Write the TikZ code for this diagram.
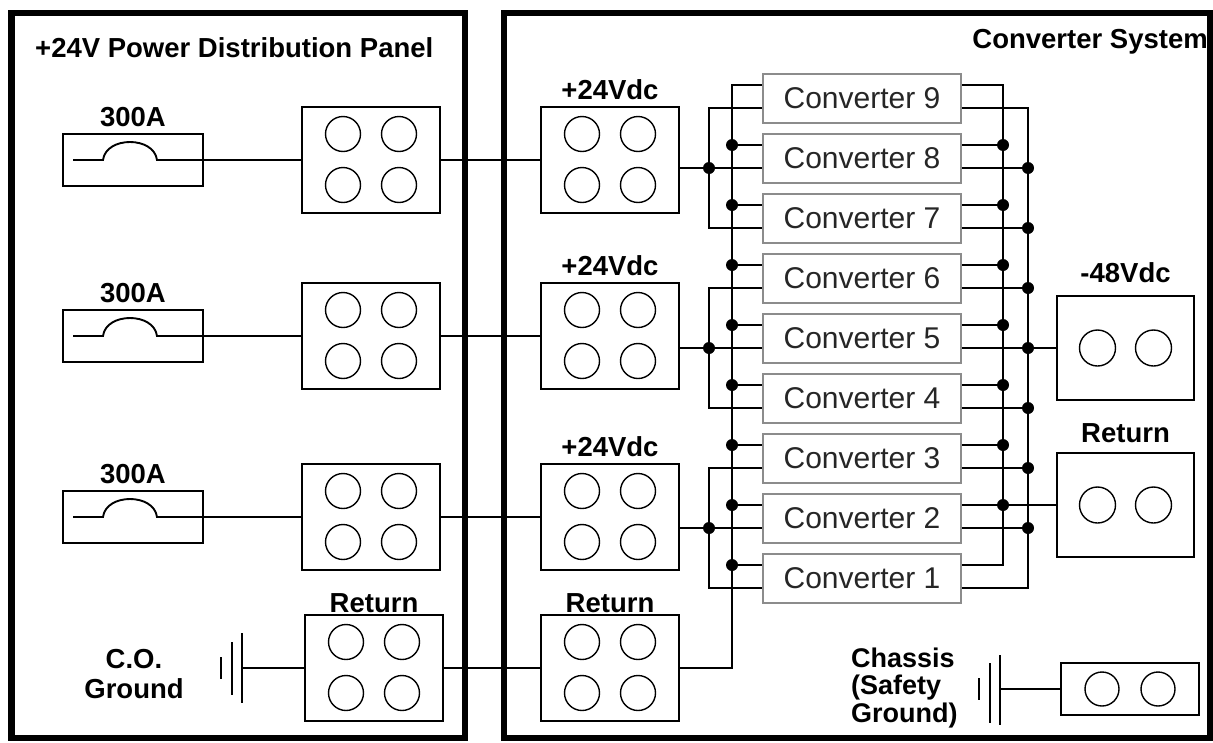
\documentclass[tikz,border=0pt]{standalone}
\usepackage{fontspec}
\setmainfont{Liberation Sans}
\usetikzlibrary{positioning}

\begin{document}
\begin{tikzpicture}[x=1pt, y=-1pt, node distance=68pt]
    \tikzstyle{wire}=[line width=1.9pt]
    \tikzstyle{panel}=[line width=6.5pt]
    \tikzstyle{annot}=[font=\fontsize{27.5}{30}\selectfont\bfseries, inner sep=0pt]
    \tikzstyle{terminal}=[draw, fill=white, line width=1.8pt, minimum width=138pt, minimum height=106pt, inner sep=0pt]
    \tikzstyle{small terminal}=[terminal, minimum width=137pt, minimum height=104pt]
    \tikzstyle{fuse}=[draw, line width=1.8pt, minimum width=140pt, minimum height=52pt, inner sep=0pt]
    \tikzstyle{converter}=[draw=black!45, fill=white, line width=2pt, minimum width=198pt, minimum height=49pt, inner sep=0pt, text=black!85, font=\fontsize{30}{32}\selectfont]
    \tikzstyle{junction}=[circle, fill, minimum size=12pt, inner sep=0pt]
    \tikzstyle{hole}=[line width=1.4pt]

    \useasboundingbox (0,0) rectangle (1213,742);

    % Draw the two panels
    \draw[panel] (11.5,13) rectangle (465,738);
    \draw[panel] (504,13) rectangle (1210,738);
    \node[annot, anchor=west] (pdp) at (35,48) {+24V Power Distribution Panel};
    \node[annot, anchor=east] (sys) at (1208,42) {Converter System};

    % Draw the fuses and the +24V terminal blocks
    \foreach \name / \y in {1/160, 2/336, 3/517} {
        \node[fuse] (F-\name) at (133,\y) {};
        \node[annot, above of=F-\name, node distance=43pt] (A-\name) {300A};
        \node[terminal] (P-\name) at (371,\y) {};
        \node[terminal] (C-\name) at (610,\y) {};
        \node[annot, above of=C-\name, node distance=70pt] (V-\name) {+24Vdc};
    }

    % Return blocks
    \node[terminal] (P-R) at (374,668) {};
    \node[terminal] (C-R) at (610,668) {};
    \node[annot, above of=P-R, node distance=65pt] (P-R-lbl) {Return};
    \node[annot, above of=C-R, node distance=65pt] (C-R-lbl) {Return};

    % Holes of the four-hole blocks
    \foreach \t in {P-1,P-2,P-3,P-R,C-1,C-2,C-3,C-R}
        \foreach \dx in {-28,28}
            \foreach \dy in {-26,25}
                \draw[hole] ([shift={(\dx,\dy)}]\t.center) circle (17.5pt);

    % Draw the converters
    \foreach \k in {1,...,9}
        \node[converter] (Conv-\k) at (862,{98+(9-\k)*60}) {Converter \k};

    % Output blocks
    \node[small terminal] (M48) at (1125.5,348) {};
    \node[annot, above of=M48, node distance=75pt] (M48-lbl) {-48Vdc};
    \node[small terminal] (RT) at (1125.5,505) {};
    \node[annot, above of=RT, node distance=72pt] (RT-lbl) {Return};
    \node[terminal, minimum height=52pt] (CH) at (1130,689) {};
    \foreach \t / \r in {M48/18, RT/18, CH/17}
        \foreach \dx in {-28,28}
            \draw[hole] ([xshift=\dx pt]\t.center) circle (\r pt);

    % Grounds
    \coordinate (G-CO) at (242,668);
    \draw[wire] (221,657) -- (221,679) (232,642) -- (232,695) (242,633) -- (242,703);
    \node[annot, align=center] (CO-lbl) at (134,674) {C.O.\\Ground};
    \coordinate (G-CH) at (1000,689);
    \draw[wire] (979,678) -- (979,700) (990,663) -- (990,723) (1000,655) -- (1000,725);
    \node[annot, align=left, anchor=west, font=\fontsize{27}{27.5}\selectfont\bfseries] (CH-lbl) at (851,688) {Chassis\\(Safety\\Ground)};

    % Panel wiring
    \foreach \name in {1,2,3} {
        \draw[wire] ([xshift=-60pt]F-\name.center) -- ++(30,0)
            .. controls +(3,-24) and +(-3,-24) .. ++(54,0) -- (P-\name.west);
        \draw[wire] (P-\name.east) -- (C-\name.west);
    }
    \draw[wire] (G-CO) -- (P-R.west);
    \draw[wire] (P-R.east) -- (C-R.west);
    \draw[wire] (G-CH) -- (CH.west);

    % Leads of the converters
    \foreach \k in {1,...,9} {
        \coordinate (Lu-\k) at ([yshift=13pt]Conv-\k.west);
        \coordinate (Ll-\k) at ([yshift=-10pt]Conv-\k.west);
        \coordinate (Ru-\k) at ([yshift=13pt]Conv-\k.east);
        \coordinate (Rl-\k) at ([yshift=-10pt]Conv-\k.east);
    }
    \coordinate (ibus) at (709,0);
    \coordinate (rbus) at (732,0);
    \coordinate (obus) at (1003,0);
    \coordinate (nbus) at (1028,0);

    % Connect every +24V block with three converters
    \foreach \t / \m / \b / \s in {9/8/7/1, 6/5/4/2, 3/2/1/3} {
        \draw[wire] (Ll-\t) -| (ibus |- Ll-\b) -- (Ll-\b);
        \draw[wire] (C-\s.east |- Ll-\m) -- (Ll-\m);
        \node[junction] (J-i-\m) at (ibus |- Ll-\m) {};
    }

    % Return bus on the input side
    \draw[wire] (C-R.east) -| (rbus |- Lu-9) -- (Lu-9);
    \foreach \k in {1,...,8} {
        \draw[wire] (rbus |- Lu-\k) -- (Lu-\k);
        \node[junction] (J-r-\k) at (rbus |- Lu-\k) {};
    }

    % Output buses
    \draw[wire] (Ru-9) -| (obus |- Ru-1) -- (Ru-1);
    \draw[wire] (Rl-9) -| (nbus |- Rl-1) -- (Rl-1);
    \foreach \k in {2,...,8} {
        \draw[wire] (Ru-\k) -- (obus |- Ru-\k);
        \draw[wire] (Rl-\k) -- (nbus |- Rl-\k);
        \node[junction] (J-o-\k) at (obus |- Ru-\k) {};
        \node[junction] (J-n-\k) at (nbus |- Rl-\k) {};
    }
    \draw[wire] (Rl-5) -- (M48.west);
    \draw[wire] (Ru-2) -- (RT.west);
\end{tikzpicture}
\end{document}
